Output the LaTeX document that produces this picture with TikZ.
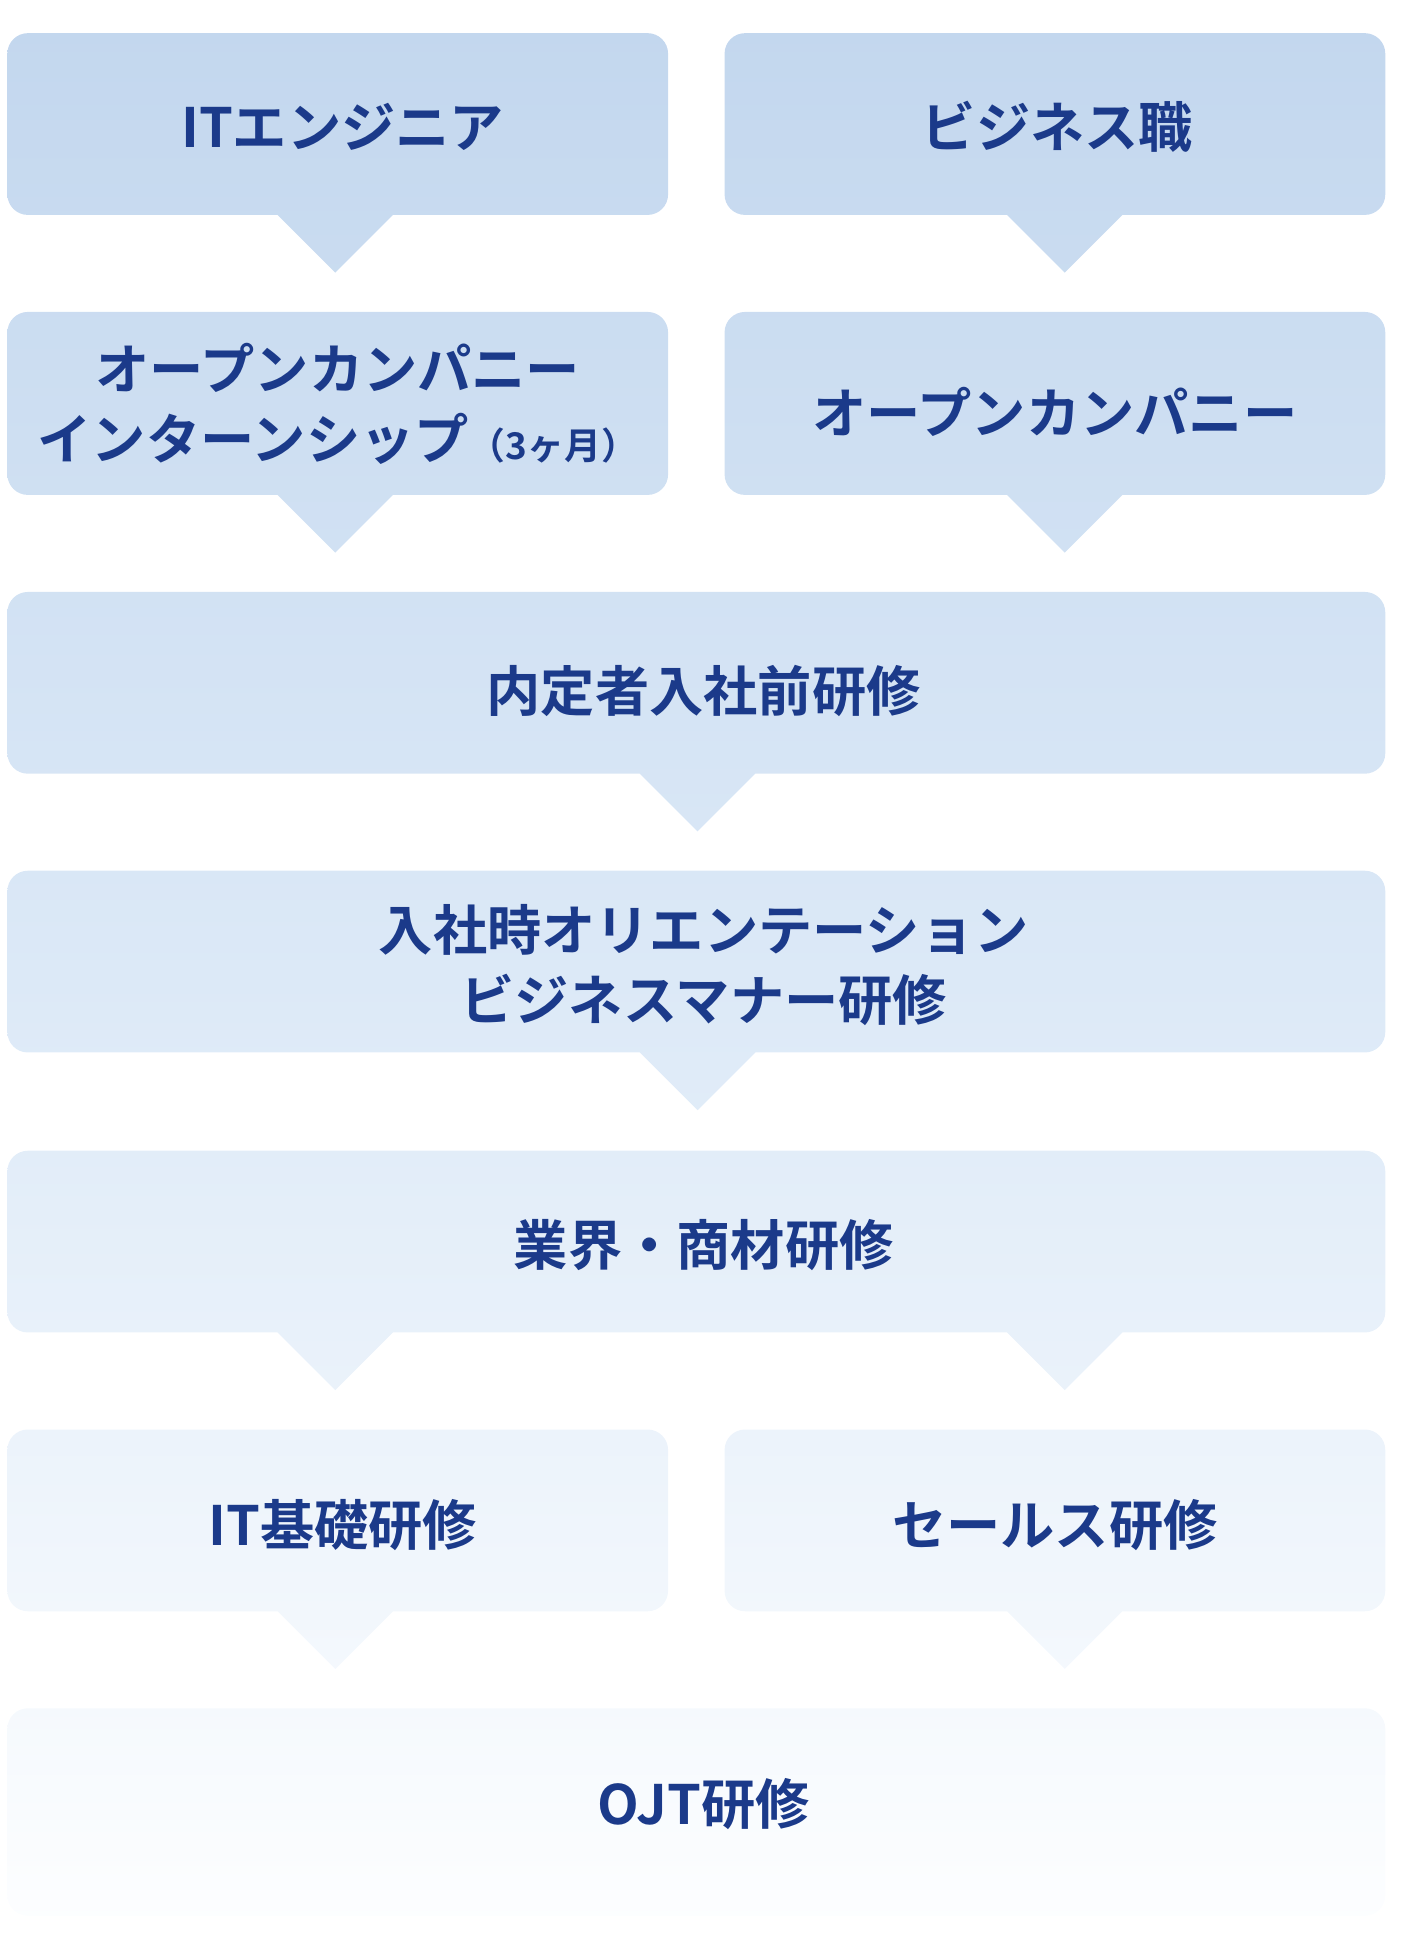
\documentclass[tikz,border=0pt]{standalone}
\usepackage{fontspec}
\setmainfont{Noto Sans CJK JP}[BoldFont={Noto Sans CJK JP Bold}]
\definecolor{labelblue}{HTML}{1B3A8A}
\definecolor{shadetop}{HTML}{C3D7EE}
\definecolor{shademid}{HTML}{DCE9F7}
\definecolor{shadebot}{HTML}{FDFEFF}
\tikzset{
  steplabel/.style={text=labelblue, font=\bfseries\fontsize{26.5}{34}\selectfont, align=center},
}
% box with a downward pointer, added to the current path
\newcommand{\stepbox}[5]{%
  [rounded corners=10] (#1,#2) rectangle (#3,#4)
  [sharp corners] ({#5-47},#4) -- (#5,{#4+47}) -- ({#5+47},#4) -- cycle}
\begin{document}
\begin{tikzpicture}[x=0.6pt,y=-0.6pt]
  \useasboundingbox (0,0) rectangle (1140,1574);
  \begin{scope}
    \clip \stepbox{6}{27}{544}{175}{273}
          \stepbox{590}{27}{1128}{175}{867}
          \stepbox{6}{254}{544}{403}{273}
          \stepbox{590}{254}{1128}{403}{867}
          \stepbox{6}{482}{1128}{630}{568}
          \stepbox{6}{709}{1128}{857}{568}
          \stepbox{6}{937}{1128}{1085}{273}
          ({867-47},1085) -- (867,1132) -- ({867+47},1085) -- cycle
          \stepbox{6}{1164}{544}{1312}{273}
          \stepbox{590}{1164}{1128}{1312}{867}
          [rounded corners=10] (6,1391) rectangle (1128,1560);
    \shade[top color=shadetop, bottom color=shadebot, middle color=shademid] (0,20) rectangle (1140,1574);
  \end{scope}
  \node[steplabel] (itengineer) at (279,103) {ITエンジニア};
  \node[steplabel] (business) at (861,103) {ビジネス職};
  \node[steplabel] (intern) at (275,329) {オープンカンパニー\\インターンシップ{\fontsize{18}{20}\selectfont（3ヶ月）}};
  \node[steplabel] (opencompany) at (859,335) {オープンカンパニー};
  \node[steplabel] (prejoin) at (573,563) {内定者入社前研修};
  \node[steplabel] (orientation) at (573,786) {入社時オリエンテーション\\ビジネスマナー研修};
  \node[steplabel] (industry) at (573,1014) {業界・商材研修};
  \node[steplabel] (itbasic) at (279,1242) {IT基礎研修};
  \node[steplabel] (sales) at (859,1242) {セールス研修};
  \node[steplabel] (ojt) at (573,1469) {OJT研修};
\end{tikzpicture}
\end{document}
